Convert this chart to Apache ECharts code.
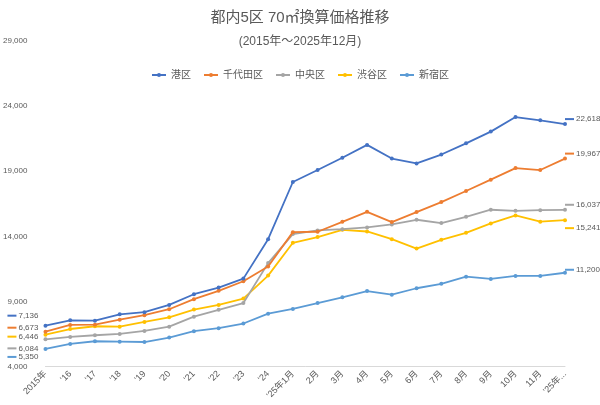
<!DOCTYPE html>
<html>
<head>
<meta charset="utf-8">
<script src="https://cdn.jsdelivr.net/npm/echarts@6/dist/echarts.min.js"></script>
<style>
html,body{margin:0;padding:0;background:#fff;}
#main{width:600px;height:405px;}
</style>
</head>
<body>
<div id="main"></div>
<script>
// 横軸
var categories = ['2015年', "'16", "'17", "'18", "'19", "'20", "'21", "'22", "'23", "'24",
	"'25年1月", '2月', '3月', '4月', '5月', '6月', '7月', '8月', '9月', '10月', '11月', "'25年12月"];

// 各区の価格(万円)
var minato   = [7136, 7550, 7520, 8010, 8170, 8730, 9550, 10060, 10750, 13780, 18170, 19090, 20030, 21020, 19970, 19600, 20280, 21140, 22040, 23160, 22910, 22618];
var chiyoda  = [6673, 7190, 7210, 7600, 7940, 8400, 9170, 9810, 10550, 11680, 14320, 14350, 15110, 15880, 15090, 15860, 16630, 17480, 18350, 19240, 19090, 19967];
var chuo     = [6084, 6270, 6400, 6500, 6730, 7060, 7830, 8350, 8870, 11940, 14170, 14450, 14550, 14680, 14910, 15270, 15020, 15500, 16040, 15960, 16010, 16037];
var shibuya  = [6446, 6880, 7090, 7060, 7420, 7780, 8370, 8730, 9220, 10980, 13500, 13940, 14500, 14370, 13780, 13060, 13730, 14270, 14990, 15600, 15120, 15241];
var shinjuku = [5350, 5730, 5940, 5910, 5880, 6220, 6710, 6940, 7300, 8060, 8420, 8870, 9310, 9790, 9520, 10010, 10350, 10900, 10730, 10960, 10960, 11200];

var names  = ['港区', '千代田区', '中央区', '渋谷区', '新宿区'];
var values = [minato, chiyoda, chuo, shibuya, shinjuku];
var colors = ['#4472C4', '#ED7D31', '#A5A5A5', '#FFC000', '#5B9BD5'];

// 両端ラベルの縦ずれ
var firstShift = [-10, -4, 9, 2, 8];
var lastShift  = [-5, -5, -5, 8, -3];

var FONT = "'Liberation Sans', 'Noto Sans CJK JP', sans-serif";

function endLabel(val, color, pos, dy) {
	return {
		show: true,
		position: pos,
		distance: pos == 'left' ? 5 : 0,
		offset: [pos == 'left' ? 0 : -2, dy],
		formatter: '{k|}{t|' + echarts.format.addCommas(val) + '}',
		rich: {
			k: { width: 9, height: 2, backgroundColor: color, verticalAlign: 'middle' },
			t: { fontSize: 8, color: '#595959', padding: [0, 0, 0, 2], fontFamily: FONT, verticalAlign: 'middle' }
		}
	};
}

function buildSeries() {
	var list = [];
	for (var i = 0; i < names.length; i++) {
		var arr = values[i];
		var data = [];
		for (var j = 0; j < arr.length; j++) {
			if (j == 0) {
				data.push({ value: arr[j], label: endLabel(arr[j], colors[i], 'left', firstShift[i]) });
			} else if (j == arr.length - 1) {
				data.push({ value: arr[j], label: endLabel(arr[j], colors[i], 'right', lastShift[i]) });
			} else {
				data.push(arr[j]);
			}
		}
		list.push({
			name: names[i],
			type: 'line',
			data: data,
			symbol: 'circle',
			symbolSize: 4,
			lineStyle: { width: 1.8, color: colors[i] },
			itemStyle: { color: colors[i] },
			label: { show: false },
			z: 10 - i
		});
	}
	return list;
}

var chart = echarts.init(document.getElementById('main'));

var option = {
	animation: false,
	textStyle: { fontFamily: FONT },
	title: {
		text: '都内5区 70㎡換算価格推移',
		subtext: '(2015年～2025年12月)',
		left: 'center',
		top: 10,
		padding: 0,
		itemGap: 11,
		textStyle: { fontSize: 15, fontWeight: 'normal', color: '#595959', fontFamily: FONT },
		subtextStyle: { fontSize: 12, color: '#595959', fontFamily: FONT }
	},
	legend: {
		top: 65,
		left: 'center',
		itemWidth: 14,
		itemHeight: 5,
		itemGap: 12,
		textStyle: { fontSize: 10, color: '#595959', fontFamily: FONT },
		data: names
	},
	grid: { left: 45, right: 35, top: 41, bottom: 38.5, containLabel: false },
	xAxis: {
		type: 'category',
		data: categories,
		boundaryGap: false,
		axisLine: { lineStyle: { color: '#D9D9D9' } },
		axisTick: { show: false },
		axisLabel: {
			interval: 0,
			rotate: 45,
			fontSize: 9,
			color: '#595959',
			margin: 6,
			formatter: function (v, idx) {
				return idx == categories.length - 1 ? "'25年..." : v;
			}
		}
	},
	yAxis: {
		type: 'value',
		min: 4000,
		max: 29000,
		interval: 5000,
		axisLine: { show: false },
		axisTick: { show: false },
		splitLine: { show: false },
		axisLabel: { fontSize: 8, color: '#595959', margin: 18 }
	},
	series: buildSeries()
};

chart.setOption(option);
</script>
</body>
</html>
